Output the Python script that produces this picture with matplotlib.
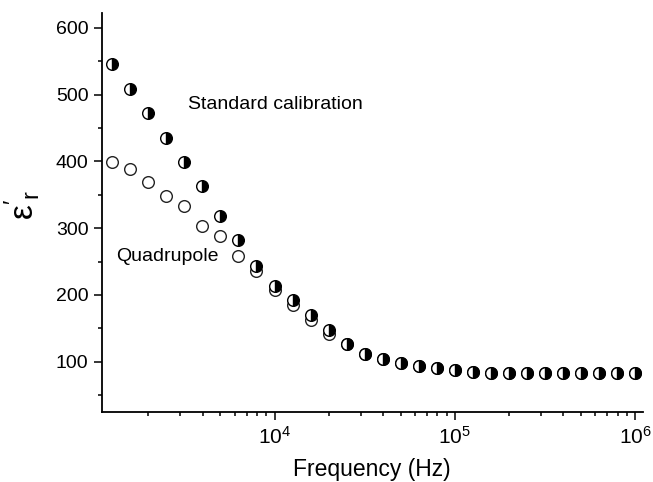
import numpy as np
import matplotlib
matplotlib.use('Agg')
import matplotlib.pyplot as plt
from matplotlib.ticker import MultipleLocator, LogLocator, NullFormatter

plt.rcParams['font.family'] = ['Liberation Sans', 'DejaVu Sans']
plt.rcParams['mathtext.fontset'] = 'custom'
plt.rcParams['mathtext.rm'] = 'Liberation Sans'
plt.rcParams['mathtext.it'] = 'Liberation Sans:italic'
plt.rcParams['font.size'] = 14

# Frequency points, 10 per decade (Hz)
freq = [1259, 1585, 1995, 2512, 3162, 3981, 5012, 6310, 7943,
        10000, 12589, 15849, 19953, 25119, 31623, 39811, 50119, 63096, 79433,
        100000, 125893, 158489, 199526, 251189, 316228, 398107, 501187, 630957, 794328,
        1000000]

# Real permittivity, standard calibration
eps_standard = [546, 509, 472, 435, 399, 363, 318, 282, 244,
                214, 193, 170, 148, 126, 112, 104, 98, 94, 90,
                87, 84, 83, 83, 83, 83, 83, 83, 83, 83,
                83]

# Real permittivity, quadrupole calibration
eps_quadrupole = [399, 388, 369, 348, 333, 303, 288, 259, 236,
                  207, 185, 162, 141, 126, 112, 104, 98, 94, 90,
                  87, 84, 83, 83, 83, 83, 83, 83, 83, 83,
                  83]

fig = plt.figure(figsize=(6.53, 4.82), dpi=100)
ax = fig.add_axes([0.1557, 0.1459, 0.8283, 0.8265])

ax.plot(freq, eps_quadrupole, linestyle='none', marker='o', ms=8.4,
        mfc='white', mec='#222222', mew=1.0)
ax.plot(freq, eps_standard, linestyle='none', marker='o', ms=8.4,
        fillstyle='right', mfc='black', mfcalt='white', mec='black', mew=1.0)

ax.text(3300, 486, 'Standard calibration', fontsize=14, va='center', ha='left')
ax.text(1330, 257, 'Quadrupole', fontsize=14, va='center', ha='left')

ax.set_xscale('log')
ax.set_xlim(1100, 1.1e6)
ax.set_ylim(25, 622)

ax.xaxis.set_major_locator(LogLocator(base=10))
ax.xaxis.set_minor_locator(LogLocator(base=10, subs=np.arange(2, 10)))
ax.xaxis.set_minor_formatter(NullFormatter())
ax.yaxis.set_major_locator(MultipleLocator(100))
ax.yaxis.set_minor_locator(MultipleLocator(50))

for side in ('top', 'right'):
    ax.spines[side].set_visible(False)
for side in ('left', 'bottom'):
    ax.spines[side].set_linewidth(1.3)

ax.tick_params(which='major', direction='out', length=5.5, width=1.1,
               labelsize=14, pad=4)
ax.tick_params(which='minor', direction='out', length=3.2, width=1.1)
ax.tick_params(axis='x', which='major', labelsize=15, pad=5)

ax.set_xlabel('Frequency (Hz)', fontsize=16.5, labelpad=7)
ax.set_ylabel(r"$\mathrm{\varepsilon}'_{\mathrm{r}}$", fontsize=24)
ax.yaxis.set_label_coords(-0.11, 0.52)

fig.savefig('out.png', dpi=100)
plt.close()
